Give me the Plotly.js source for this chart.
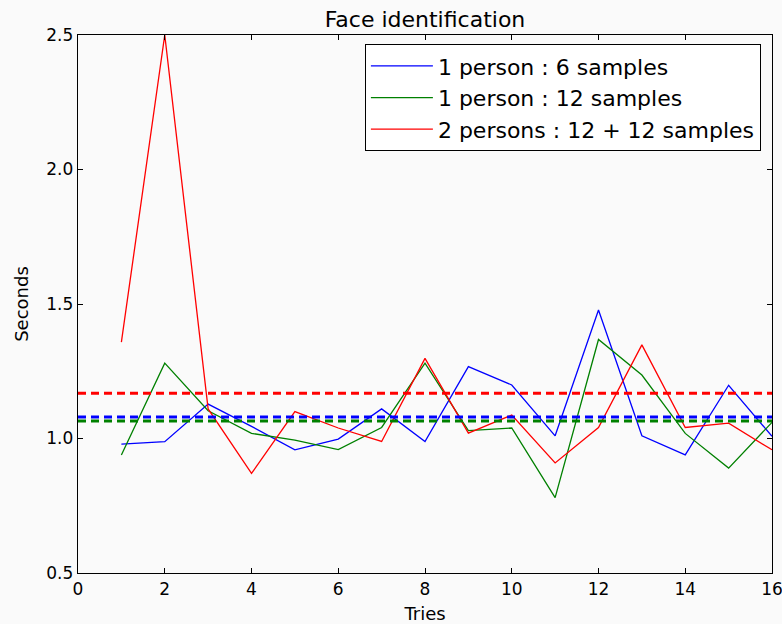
<!DOCTYPE html>
<html>
<head>
<meta charset="utf-8">
<script src="https://cdn.plot.ly/plotly-3.0.1.min.js"></script>
<style>
  html, body { margin: 0; padding: 0; background: #fafafa; }
  #chart { width: 782px; height: 624px; }
</style>
</head>
<body>
<div id="chart"></div>
<script>
const tries = [1, 2, 3, 4, 5, 6, 7, 8, 9, 10, 11, 12, 13, 14, 15, 16];
const onePerson6 = [0.979, 0.988, 1.128, 1.045, 0.958, 0.998, 1.110, 0.989, 1.267, 1.199, 1.010, 1.478, 1.010, 0.939, 1.198, 1.008];
const onePerson12 = [0.939, 1.280, 1.103, 1.019, 0.994, 0.959, 1.041, 1.280, 1.029, 1.039, 0.780, 1.368, 1.236, 1.019, 0.890, 1.060];
const twoPersons12 = [1.358, 2.500, 1.110, 0.870, 1.100, 1.039, 0.989, 1.298, 1.020, 1.087, 0.909, 1.041, 1.348, 1.041, 1.057, 0.958];
const avgOnePerson6 = 1.080;
const avgOnePerson12 = 1.065;
const avgTwoPersons12 = 1.168;
const seriesNames = ["1 person : 6 samples", "1 person : 12 samples", "2 persons : 12 + 12 samples"];
const xRange = [0, 16];
const yRange = [0.5, 2.5];
const xTicks = [0, 2, 4, 6, 8, 10, 12, 14, 16];
const yTicks = [0.5, 1.0, 1.5, 2.0, 2.5];

const colors = ["#0000ff", "#008000", "#ff0000"];
const series = [onePerson6, onePerson12, twoPersons12];
const avgs = [avgOnePerson6, avgOnePerson12, avgTwoPersons12];

const traces = [];
series.forEach((ys, i) => {
  traces.push({
    x: tries, y: ys, type: "scatter", mode: "lines",
    name: seriesNames[i],
    line: { color: colors[i], width: 1.3 },
    legendgroup: "g" + i
  });
});
avgs.forEach((a, i) => {
  traces.push({
    x: xRange, y: [a, a], type: "scatter", mode: "lines",
    showlegend: false, hoverinfo: "skip",
    line: { color: colors[i], width: 3, dash: "8px,5px" }
  });
});

const axisCommon = {
  showgrid: false, zeroline: false,
  showline: true, linecolor: "#000", linewidth: 1.3, mirror: "ticks",
  ticks: "inside", ticklen: 5, tickcolor: "#000", tickwidth: 1,
  ticklabeloverflow: "allow",
  tickfont: { family: "DejaVu Sans", size: 17, color: "#000" }
};

const layout = {
  width: 782, height: 624,
  paper_bgcolor: "#fafafa", plot_bgcolor: "#fafafa",
  margin: { l: 78, r: 10, t: 35, b: 51 },
  font: { family: "DejaVu Sans", color: "#000" },
  title: { text: "Face identification", font: { family: "DejaVu Sans", size: 22, color: "#000" },
           x: 0.5, xref: "paper", y: 1 - 19 / 624, yref: "container", yanchor: "middle" },
  xaxis: Object.assign({}, axisCommon, {
    range: xRange, tickvals: xTicks, ticktext: xTicks.map(String),
    title: { text: "Tries", font: { family: "DejaVu Sans", size: 18, color: "#000" }, standoff: 9 }
  }),
  yaxis: Object.assign({}, axisCommon, {
    range: yRange, tickvals: yTicks, ticktext: yTicks.map(v => v.toFixed(1)),
    title: { text: "Seconds", font: { family: "DejaVu Sans", size: 18, color: "#000" }, standoff: 13 }
  }),
  legend: {
    x: 0.984, xanchor: "right", y: 0.983, yanchor: "top",
    bgcolor: "#ffffff", bordercolor: "#000", borderwidth: 1,
    font: { family: "DejaVu Sans", size: 22, color: "#000" },
    itemwidth: 62,
    tracegroupgap: 0
  },
  showlegend: true
};

Plotly.newPlot("chart", traces, layout, { staticPlot: true, displayModeBar: false });
</script>
</body>
</html>
